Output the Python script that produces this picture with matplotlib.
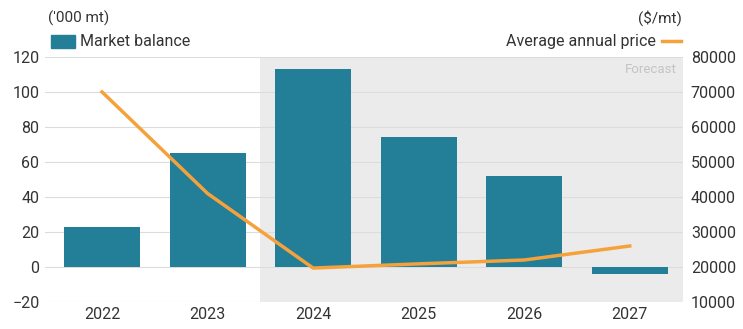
import matplotlib
matplotlib.use("Agg")
import matplotlib.pyplot as plt
import numpy as np

years = ["2022", "2023", "2024", "2025", "2026", "2027"]
market_balance = [23, 65, 113, 74, 52, -4]
avg_price = [70000, 41000, 19700, 20900, 22000, 26000]

plt.rcParams['font.family'] = ['Roboto', 'DejaVu Sans']
text_col = "#333333"
bar_col = "#237e98"
line_col = "#f5a23c"

fig = plt.figure(figsize=(7.43, 3.29), dpi=100)
ax = fig.add_axes([0.0606, 0.082, 0.858, 0.745])
x = np.arange(len(years))

# forecast shading
ax.axvspan(1.5, 5.5, color="#ebebeb", zorder=0, lw=0)
ax.text(5.45, 0.975, "Forecast", transform=ax.get_xaxis_transform(),
        ha="right", va="top", color="#c4c4c4", fontsize=9.5)

ax.bar(x, market_balance, width=0.72, color=bar_col, zorder=2)
ax.set_ylim(-20, 120)
ax.set_yticks(range(-20, 121, 20))
ax.set_xlim(-0.54, 5.5)
ax.set_xticks(x)
ax.set_xticklabels(years)
ax.grid(axis="y", color="#dcdcdc", lw=0.8, zorder=1)
ax.set_axisbelow(True)

ax2 = ax.twinx()
ax2.plot(x, avg_price, color=line_col, lw=2.5, zorder=3)
ax2.set_ylim(10000, 80000)
ax2.set_yticks(range(10000, 80001, 10000))

for a in (ax, ax2):
    for s in a.spines.values():
        s.set_visible(False)
    a.tick_params(length=0, labelsize=11.5, colors=text_col)
ax.tick_params(axis="y", pad=4)
ax2.tick_params(axis="y", pad=6)

# legends / unit labels
fig.text(0.065, 0.945, "('000 mt)", ha="left", va="center", fontsize=11, color=text_col)
fig.patches.append(plt.Rectangle((0.068, 0.853), 0.033, 0.042, transform=fig.transFigure,
                                 color=bar_col, figure=fig))
fig.text(0.108, 0.874, "Market balance", ha="left", va="center", fontsize=11.5, color=text_col)
fig.text(0.918, 0.945, "($/mt)", ha="right", va="center", fontsize=11, color=text_col)
fig.text(0.883, 0.874, "Average annual price", ha="right", va="center", fontsize=11.5, color=text_col)
fig.lines.append(plt.Line2D([0.891, 0.916], [0.874, 0.874], transform=fig.transFigure,
                            color=line_col, lw=2.5, figure=fig))

fig.savefig("out.png", dpi=100)
